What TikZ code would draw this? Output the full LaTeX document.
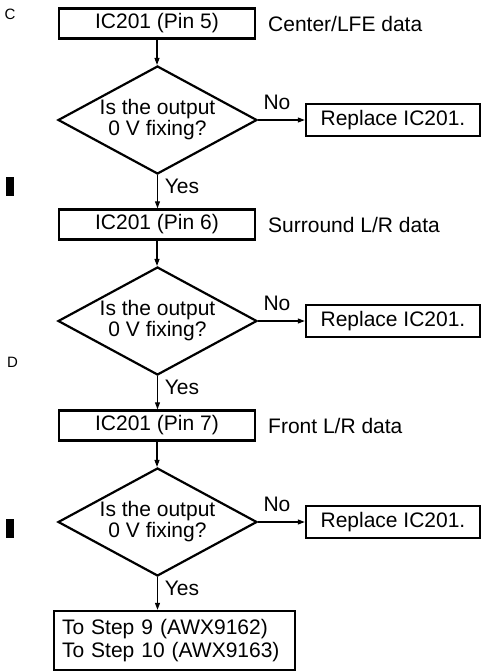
\documentclass[tikz,border=0pt]{standalone}
\usepackage{fontspec}
\setmainfont{Liberation Sans}
\usetikzlibrary{shapes.geometric,arrows.meta}
\begin{document}
\begin{tikzpicture}[x=1pt, y=-1pt, font=\fontsize{21}{23}\selectfont,
  pinbox/.style={draw, line width=2.4pt, minimum width=196pt, minimum height=30pt, inner sep=0pt},
  query/.style={draw, diamond, line width=2.2pt, aspect=1.83, minimum width=199pt, minimum height=108pt, inner sep=0pt, align=center, font=\fontsize{21}{21}\selectfont},
  fixbox/.style={draw, line width=2.4pt, minimum width=174pt, minimum height=32pt, inner sep=0pt},
  endbox/.style={draw, line width=2.4pt, text width=225pt, inner xsep=8pt, minimum height=59pt, align=left},
  flow/.style={line width=1.1pt, -{Triangle[length=7pt,width=5pt]}}]
\useasboundingbox (0,0) rectangle (482,672);
\foreach \i/\dy/\pin/\what in {
1/0/5/{Center/LFE data},
2/201/6/{Surround L/R data},
3/402/7/{Front L/R data}}
{
  \node[pinbox] (pin\i) at (157,23.5+\dy) {IC201 (Pin \pin)};
  \node[anchor=west, inner sep=0pt] (what\i) at (268,23.5+\dy) {\what};
  \node[query] (ask\i) at (157.5,120+\dy) {Is the output\\0 V fixing?};
  \node[fixbox] (fix\i) at (393,120+\dy) {Replace IC201.};
  \draw[flow] (pin\i) -- (pin\i |- ask\i.north);
  \draw[flow] (ask\i) -- (fix\i);
  \node (no\i) at (277,102+\dy) {No};
  \node (yes\i) at (182,186+\dy) {Yes};
}
\node[endbox] (goon) at (174.5,640.5) {To Step 9 (AWX9162)\\To Step 10 (AWX9163)};
\foreach \i/\nxt in {1/pin2, 2/pin3, 3/goon}
  \draw[flow] (ask\i.south) -- (ask\i.south |- \nxt.north);
\node[font=\fontsize{15}{15}\selectfont] (c) at (10,14) {C};
\node[font=\fontsize{15}{15}\selectfont] (d) at (12.5,362) {D};
\fill (6,177) rectangle (14,196);
\fill (6,519) rectangle (14,538);
\end{tikzpicture}
\end{document}
